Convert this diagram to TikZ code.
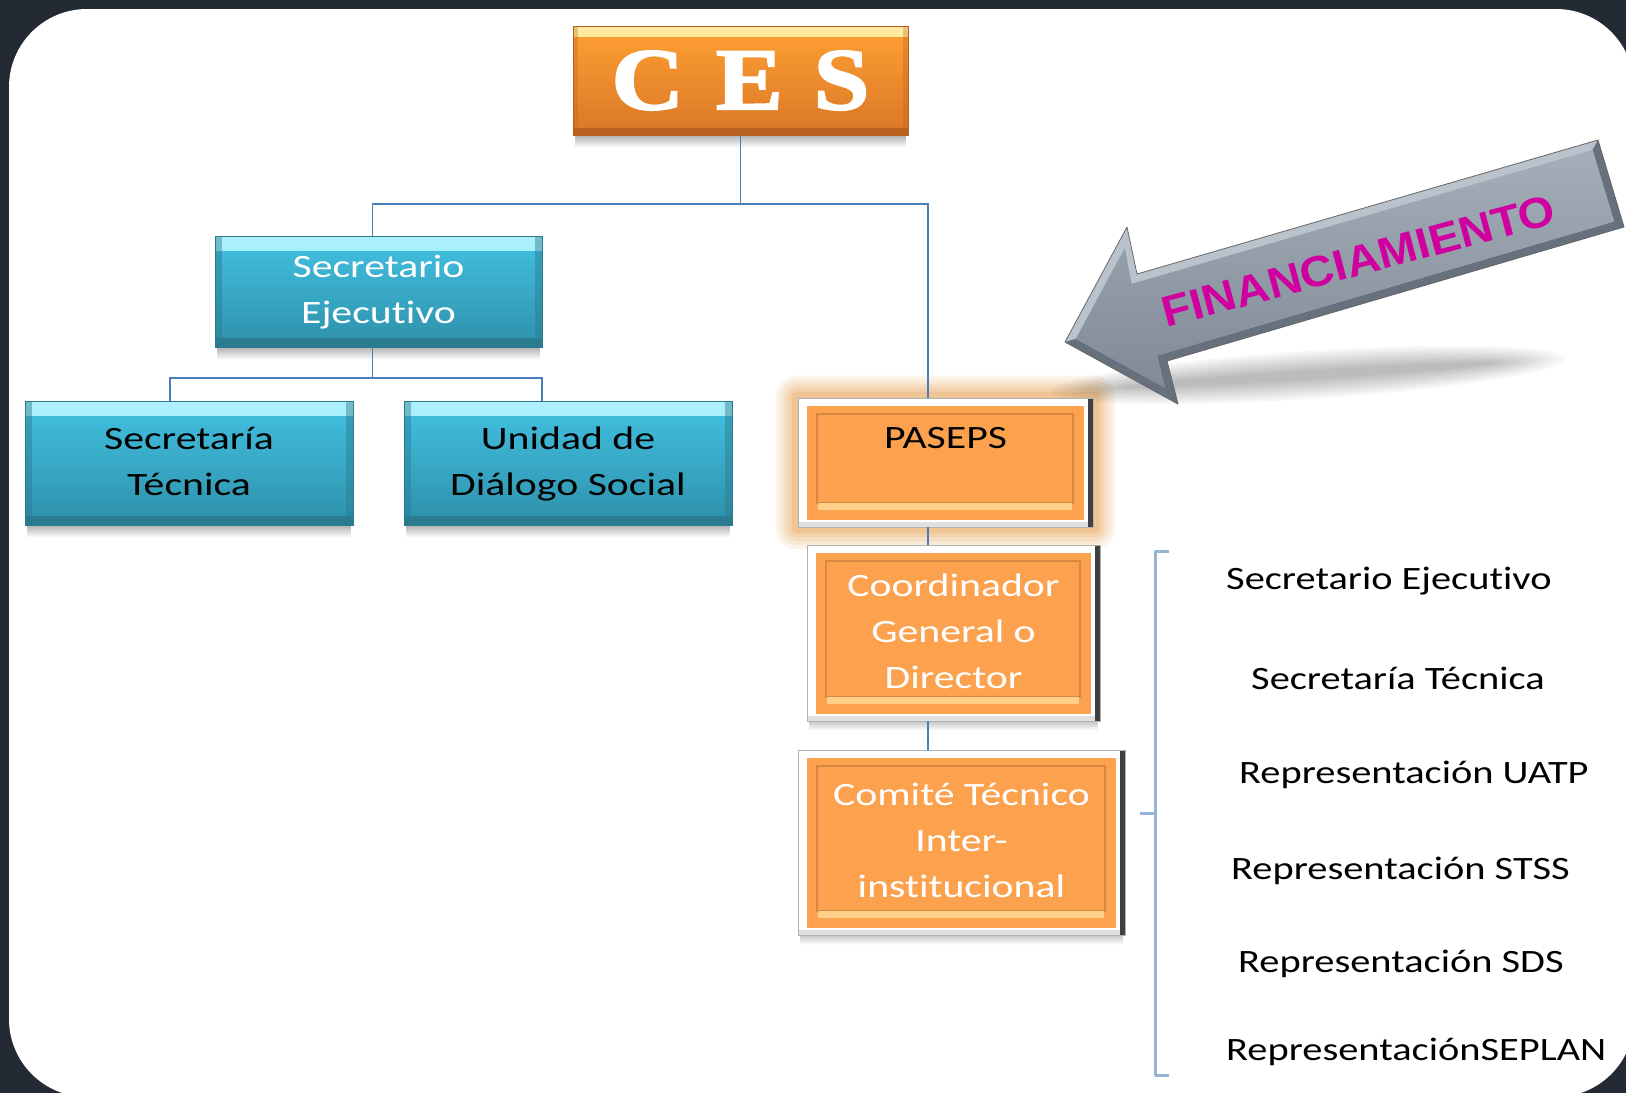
\documentclass[tikz,border=0pt]{standalone}
\usepackage{graphicx}
\usepackage{fontspec}
\setmainfont{Carlito}[Ligatures=NoCommon]
\newfontfamily\cesfont{Liberation Serif}[BoldFeatures={FakeBold=2.2}]
\newfontfamily\finfont{Liberation Sans}
\usetikzlibrary{calc}
\pgfdeclarelayer{panel}
\pgfdeclarelayer{glow}
\pgfsetlayers{panel,glow,main}
\definecolor{darkbg}{HTML}{232A33}
\definecolor{conncol}{HTML}{4A7EBB}
\definecolor{brcol}{HTML}{95B3D7}
\definecolor{btop}{HTML}{42C2E2}
\definecolor{bbot}{HTML}{2E90AA}
\definecolor{bstrip}{HTML}{6EE3F8}
\definecolor{bdark}{HTML}{2A7A90}
\definecolor{otop}{HTML}{FFA033}
\definecolor{obot}{HTML}{DA7727}
\definecolor{ostrip}{HTML}{FFDD66}
\definecolor{odark}{HTML}{B8601E}
\definecolor{ofill}{HTML}{FCA24F}
\definecolor{oline}{HTML}{D98640}
\definecolor{ohigh}{HTML}{FFD08A}
\definecolor{glowc}{HTML}{EAAA60}
\definecolor{arredge}{HTML}{66717D}
\definecolor{arrface}{HTML}{8E9AA7}
\definecolor{arrlight}{HTML}{BAC3CC}
\definecolor{fincol}{HTML}{D000A0}
\def\ppb{path picture bounding box}
\newcommand\btxt[1]{\scalebox{1.28}[1]{\begin{tabular}{@{}c@{}}#1\end{tabular}}}
\newcommand\rtxt[1]{\scalebox{1.24}[1]{#1}}
\tikzset{
  conn/.style={draw=conncol, line width=1.8pt},
  bluebox/.style={inner sep=0pt, top color=btop, bottom color=bbot, draw=bdark, line width=.8pt,
    path picture={
      \fill[top color=bstrip!55!white, bottom color=bstrip] (\ppb.north west) rectangle ([yshift=-14pt]\ppb.north east);
      \fill[bdark] ([yshift=9pt]\ppb.south west) rectangle (\ppb.south east);
      \fill[bdark, opacity=.45] (\ppb.north west) rectangle ([xshift=7pt]\ppb.south west);
      \fill[bdark, opacity=.45] ([xshift=-7pt]\ppb.north east) rectangle (\ppb.south east);
    }},
  orangebox/.style={inner sep=0pt, fill=white, draw=black!30, line width=.8pt,
    path picture={
      \fill[black!12] ([yshift=5pt]\ppb.south west) rectangle (\ppb.south east);
      \fill[ofill] ([shift={(9pt,-8pt)}]\ppb.north west) rectangle ([shift={(-9pt,7pt)}]\ppb.south east);
      \draw[oline, line width=2.5pt] ([shift={(19pt,-16pt)}]\ppb.north west) rectangle ([shift={(-20pt,24pt)}]\ppb.south east);
      \fill[ohigh] ([shift={(20pt,24pt)}]\ppb.south west) rectangle ([shift={(-21pt,17pt)}]\ppb.south east);
      \fill[black!75] ([xshift=-5pt]\ppb.north east) rectangle (\ppb.south east);
    }},
  cesbox/.style={inner sep=0pt, top color=otop, bottom color=obot, draw=odark, line width=.8pt,
    path picture={
      \fill[top color=ostrip!60!white, bottom color=ostrip] (\ppb.north west) rectangle ([yshift=-10pt]\ppb.north east);
      \fill[odark] ([yshift=7pt]\ppb.south west) rectangle (\ppb.south east);
      \fill[odark, opacity=.3] (\ppb.north west) rectangle ([xshift=5pt]\ppb.south west);
      \fill[odark, opacity=.3] ([xshift=-5pt]\ppb.north east) rectangle (\ppb.south east);
    }},
  listtext/.style={inner sep=0pt, anchor=base west, text=black},
  bracket/.style={draw=brcol, line width=3pt},
}
\begin{document}
\begin{tikzpicture}[x=1pt, y=-1pt, font=\fontsize{32.6}{46}\selectfont]
\useasboundingbox (0,0) rectangle (1626,1093);
\begin{pgfonlayer}{panel}
  \fill[darkbg] (0,0) rectangle (1626,1093);
  \fill[white, rounded corners=78] (9,9) rectangle (1634,1097);
\end{pgfonlayer}

% boxes
\node[cesbox, minimum width=335, minimum height=109] (ces) at (740.5,80.5)
  {\color{white}\cesfont\bfseries\fontsize{88}{88}\selectfont\scalebox{1.14}[1]{C\hspace{28pt}E\hspace{27pt}S}};
\node[bluebox, minimum width=327, minimum height=111, text=white] (se) at (378.5,291.5) {\btxt{Secretario\\Ejecutivo}};
\node[bluebox, minimum width=328, minimum height=124, text=black] (st) at (189,463) {\btxt{Secretaría\\Técnica}};
\node[bluebox, minimum width=328, minimum height=124, text=black] (uds) at (568,463) {\btxt{Unidad de\\Diálogo Social}};
\node[orangebox, minimum width=295, minimum height=129, text=black] (paseps) at (945.5,462.5) {\btxt{PASEPS\\ \mbox{}}};
\node[orangebox, minimum width=293, minimum height=176, text=white] (coord) at (953.5,633) {\btxt{Coordinador\\General o\\Director}};
\node[orangebox, minimum width=327, minimum height=185, text=white] (comite) at (961.5,842.5) {\btxt{Comité Técnico\\Inter-\\institucional}};

% glow and shadows
\begin{pgfonlayer}{glow}
  \foreach \r/\o in {22/.12,18/.14,14/.17,10/.22,6/.3}{
    \fill[glowc, opacity=\o, rounded corners=\r] ([shift={(-\r pt,\r pt)}]paseps.north west) rectangle ([shift={(\r pt,-\r pt)}]paseps.south east);
  }
  \foreach \n in {ces,se,st,uds}{
    \shade[top color=black!30, bottom color=white] ([shift={(3pt,0pt)}]\n.south west) rectangle ([shift={(-3pt,-12pt)}]\n.south east);
  }
  \foreach \n in {coord,comite}{
    \shade[top color=black!22, bottom color=white] ([shift={(3pt,0pt)}]\n.south west) rectangle ([shift={(-3pt,-9pt)}]\n.south east);
  }
  % arrow shadow
  \foreach \k in {0,...,8}{
    \fill[black, opacity=.032, rotate around={3.7:(1308,375)}] (1308,375) ellipse ({258-9*\k} and {24-2.4*\k});
  }
\end{pgfonlayer}

% connectors
\coordinate (hub) at (740.5,204);
\coordinate (hub2) at (372.5,378);
\draw[conn] (ces.south) -- (hub);
\draw[conn] (hub) -| ([xshift=-6pt]se.north);
\draw[conn] (hub) -| ([xshift=-17.5pt]paseps.north);
\draw[conn] ([xshift=-6pt]se.south) -- (hub2);
\draw[conn] (hub2) -| ([xshift=-19pt]st.north);
\draw[conn] (hub2) -| ([xshift=-26pt]uds.north);
\draw[conn] ([xshift=-17.5pt]paseps.south) -- ([xshift=-25.5pt]coord.north);
\draw[conn] ([xshift=-25.5pt]coord.south) -- ([xshift=-33.5pt]comite.north);

% arrow
\fill[arrlight] (1065,342) -- (1127,227) -- (1137,274) -- (1598,140) -- (1624,227) -- (1167,361) -- (1178,404) -- cycle;
\fill[arredge] (1598,140) -- (1624,227) -- (1167,361) -- (1178,404) -- (1065,342)
   -- (1075.8,338.8) -- (1164.9,387.7) -- (1157.1,355.5) -- (1614.1,221.5) -- (1592.5,149.9) -- cycle;
\shade[top color=arrface!80!white, bottom color=arrface!90!black] (1075.8,338.8) -- (1124.8,248) -- (1131.5,283.9) -- (1592.5,149.9) -- (1614.1,221.5) -- (1157.1,355.5) -- (1164.9,387.7) -- cycle;
\draw[black!60, line width=.8pt, line join=round] (1065,342) -- (1127,227) -- (1137,274) -- (1598,140) -- (1624,227) -- (1167,361) -- (1178,404) -- cycle;
\node[rotate=15, inner sep=0pt, text=fincol] (fin) at (1358.5,261)
  {\finfont\bfseries\fontsize{43}{43}\selectfont\scalebox{1.09}[1]{FINANCIAMIENTO}};

% bracket
\coordinate (brtop) at (1169,551);
\coordinate (brbot) at (1169,1075);
\coordinate (brtip) at (1140,813);
\draw[bracket, line join=round] (brtop) -- (1155,551) -- (1155,1075) -- (brbot);
\draw[bracket] (1155,813) -- (brtip);

% list
\node[listtext] (l1) at (1226,589) {\rtxt{Secretario Ejecutivo}};
\node[listtext] (l2) at (1251,689) {\rtxt{Secretaría Técnica}};
\node[listtext] (l3) at (1239,783) {\rtxt{Representación UATP}};
\node[listtext] (l4) at (1231,879) {\rtxt{Representación STSS}};
\node[listtext] (l5) at (1238,972) {\rtxt{Representación SDS}};
\node[listtext] (l6) at (1226,1060) {\rtxt{RepresentaciónSEPLAN}};
\end{tikzpicture}
\end{document}
